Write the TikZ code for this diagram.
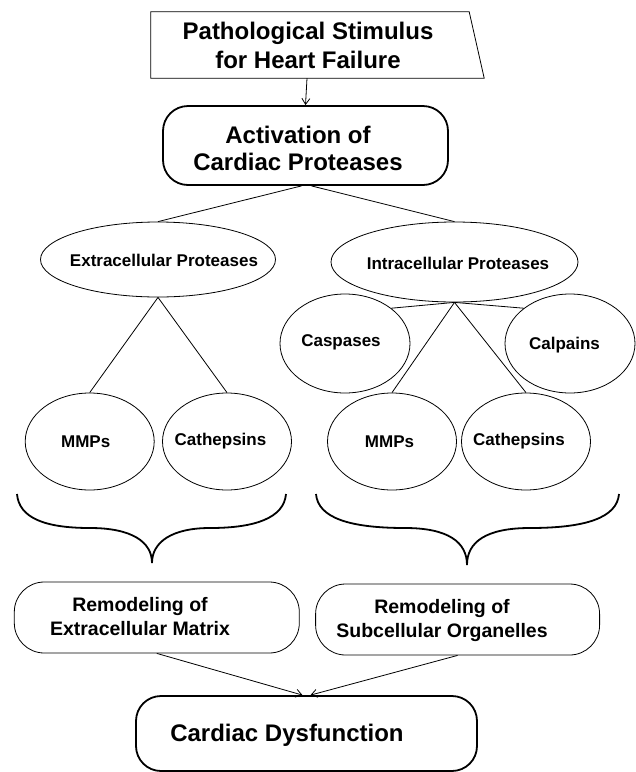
\documentclass[tikz,border=0pt]{standalone}
\usepackage{fontspec}
\setmainfont{Liberation Sans}
\usetikzlibrary{shapes.geometric,arrows.meta}
\begin{document}
\begin{tikzpicture}[x=1pt,y=-1pt,
  thinline/.style={line width=0.8pt},
  boldline/.style={line width=1.8pt},
  tip/.style={-{Straight Barb[length=6pt,width=8pt]}},
  ellip/.style={draw, ellipse, thinline, inner sep=0pt},
  smalltxt/.style={font=\bfseries\fontsize{17}{20}\selectfont},
  bigtxt/.style={font=\bfseries\fontsize{24}{28}\selectfont, align=center},
  remtxt/.style={font=\bfseries\fontsize{19.5}{24}\selectfont, align=center},
  bigbox/.style={draw, boldline, rounded corners=25pt, inner sep=0pt},
  rembox/.style={draw, thinline, rounded corners=30pt, inner sep=0pt, minimum height=71pt}
]
\useasboundingbox (0,0) rectangle (636,772);

% stimulus
\node[minimum width=318pt, minimum height=66pt, inner sep=0pt] (stim) at (310,45) {};
\node[bigtxt, font=\bfseries\fontsize{24}{29}\selectfont] (stimt) at (308,45) {Pathological Stimulus\\for Heart Failure};
\draw[thinline] (stim.north west) -- (stim.north east) -- ([xshift=15pt]stim.south east) -- (stim.south west) -- cycle;

% activation
\node[bigbox, minimum width=285pt, minimum height=79pt] (act) at (305.5,145.5) {};
\node[bigtxt, font=\bfseries\fontsize{24}{27}\selectfont] (actt) at (298,148) {Activation of\\Cardiac Proteases};
\draw[thinline, tip] ([xshift=-3pt]stim.south) -- (act.north);

% second level
\node[ellip, minimum width=235pt, minimum height=75pt,
      label={[smalltxt, xshift=6pt, yshift=-1pt]center:Extracellular Proteases}] (extra) at (158,259.5) {};
\node[ellip, minimum width=247pt, minimum height=80pt,
      label={[smalltxt, xshift=3.5pt, yshift=-1pt]center:Intracellular Proteases}] (intra) at (454.5,262) {};
\draw[thinline] ([xshift=-4pt]act.south) -- (extra.north);
\draw[thinline] ([xshift=6pt]act.south) -- (intra.north);

% leaves
\node[ellip, minimum width=129pt, minimum height=97pt,
      label={[smalltxt, xshift=-4pt]center:MMPs}] (mmpl) at (89.7,441.5) {};
\node[ellip, minimum width=129pt, minimum height=97pt,
      label={[smalltxt, xshift=-6.5pt]center:Cathepsins}] (cathl) at (227,441.5) {};
\node[ellip, minimum width=130pt, minimum height=99pt,
      label={[smalltxt, xshift=-4pt, yshift=1pt]center:Caspases}] (casp) at (345,343.5) {};
\node[ellip, minimum width=130pt, minimum height=99pt,
      label={[smalltxt, xshift=-5.5pt, yshift=-1.5pt]center:Calpains}] (calp) at (570,343.5) {};
\node[ellip, minimum width=129pt, minimum height=97pt,
      label={[smalltxt, xshift=-2.5pt]center:MMPs}] (mmpr) at (392,441.5) {};
\node[ellip, minimum width=129pt, minimum height=97pt,
      label={[smalltxt, xshift=-7pt]center:Cathepsins}] (cathr) at (526,441.5) {};

\draw[thinline] (extra.south) -- (mmpl.north);
\draw[thinline] (extra.south) -- (cathl.north);
\draw[thinline] (intra.south) -- (casp.north east);
\draw[thinline] (intra.south) -- (calp.north west);
\draw[thinline] (intra.south) -- (mmpr.north);
\draw[thinline] (intra.south) -- (cathr.north);

% braces
\draw[boldline] (17,494) .. controls (19,518) and (45,528) .. (90,528)
  .. controls (132,528) and (152,542) .. (152,563)
  .. controls (152,542) and (172,528) .. (210,528)
  .. controls (255,528) and (284,518) .. (286,494);
\draw[boldline] (316,494) .. controls (318,518) and (350,528) .. (405,528)
  .. controls (448,528) and (467,542) .. (467,565)
  .. controls (467,542) and (486,528) .. (530,528)
  .. controls (585,528) and (617,518) .. (619,494);

% remodeling
\node[rembox, minimum width=285pt] (reml) at (156.8,617.5) {};
\node[remtxt] (remlt) at (140,617) {Remodeling of\\Extracellular Matrix};
\node[rembox, minimum width=284pt] (remr) at (457.6,619.5) {};
\node[remtxt] (remrt) at (442,620) {Remodeling of\\Subcellular Organelles};

% dysfunction
\node[bigbox, minimum width=341pt, minimum height=75pt] (dys) at (306.5,733.5) {};
\node[font=\bfseries\fontsize{24}{28}\selectfont] (dyst) at (287,735) {Cardiac Dysfunction};
\draw[thinline, tip] (reml.south) -- ([xshift=-4pt]dys.north);
\draw[thinline, tip] (remr.south) -- ([xshift=4pt]dys.north);
\end{tikzpicture}
\end{document}
